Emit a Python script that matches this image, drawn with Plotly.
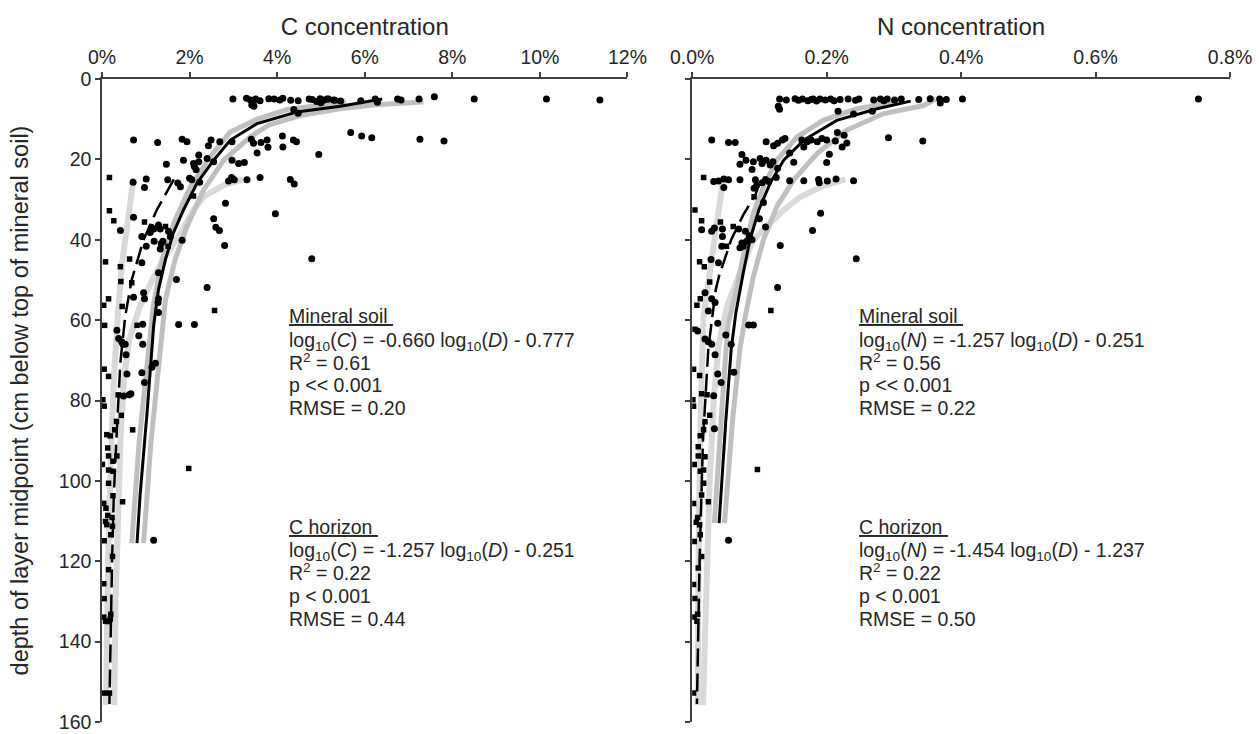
import plotly.graph_objects as go

# ---------------- data (concentration %, depth cm) ----------------
# Left panel: C concentration
c_min_conc = [2.99, 3.30, 3.39, 3.45, 3.51, 3.61, 3.81, 3.93, 4.06, 4.13, 4.31, 4.48, 4.73, 4.80, 4.90,
              4.98, 5.07, 5.17, 5.32, 5.45, 5.91, 6.24, 6.29, 6.75, 6.83, 7.24, 7.59, 8.50, 10.15, 11.37,
              3.47, 4.38, 4.48, 3.42, 5.00, 5.14, 5.29,
              0.72, 1.27, 1.83, 1.94, 2.43, 2.49, 2.69, 2.97, 3.41, 3.46, 3.63, 3.77, 3.79, 4.12, 4.13, 4.37, 4.44,
              4.95, 1.47, 1.86, 2.21, 2.40, 2.09, 2.11, 2.15, 2.21, 2.55, 2.97, 3.12, 3.25, 3.54, 2.96, 3.02,
              2.89, 3.31, 3.61, 4.30, 4.39, 0.71, 1.01, 0.97, 1.50, 1.73, 1.79, 2.00, 2.05, 2.23, 2.82, 3.96,
              2.55, 2.60, 2.68, 2.80, 4.79, 0.72, 0.91, 1.13, 1.10, 1.18, 1.29, 1.33, 1.19, 1.01, 1.35, 1.33,
              1.39, 1.52, 1.56, 1.83, 0.91, 1.29, 1.70, 2.40, 0.72, 0.95, 0.97, 1.29, 1.28, 1.29, 0.42, 1.75,
              2.11, 0.93, 0.84, 0.93, 0.34, 0.38, 0.48, 0.45, 0.53, 0.55, 0.57, 0.49, 0.62, 0.66, 0.91, 0.97,
              1.22, 1.14, 1.18, 5.68, 5.93, 6.16, 7.26, 7.81]
c_min_depth = [5.0, 4.8, 5.2, 6.0, 5.0, 5.4, 4.9, 5.0, 5.2, 4.8, 5.3, 5.4, 5.0, 5.1, 5.6,
               4.9, 5.2, 5.0, 5.3, 5.5, 5.4, 5.0, 5.8, 5.0, 5.2, 5.0, 4.4, 5.0, 5.0, 5.2,
               6.8, 7.6, 8.5, 6.5, 5.9, 5.0, 5.2,
               15.2, 15.8, 15.0, 15.6, 16.6, 15.2, 15.6, 15.6, 15.0, 16.0, 15.8, 15.2, 17.0, 14.2, 16.9, 15.2, 15.6,
               18.8, 21.2, 20.2, 18.9, 19.8, 21.0, 21.8, 22.6, 20.6, 20.6, 20.2, 21.0, 20.8, 18.4, 24.5, 25.1,
               25.4, 25.1, 24.5, 25.0, 26.1, 25.7, 24.9, 27.0, 25.1, 25.9, 26.8, 24.7, 25.1, 25.7, 30.9, 33.5,
               34.8, 36.9, 37.7, 41.4, 44.7, 34.4, 39.2, 36.9, 38.2, 37.3, 36.3, 37.3, 40.4, 41.6, 41.0, 42.3,
               40.4, 37.9, 39.2, 40.1, 45.7, 48.2, 49.9, 51.9, 54.3, 53.2, 54.7, 54.7, 55.6, 58.1, 37.7, 61.1,
               61.1, 61.0, 63.9, 66.0, 62.5, 64.6, 66.0, 65.4, 66.0, 68.6, 73.4, 78.9, 78.6, 78.3, 73.1, 75.5,
               70.7, 71.7, 114.8, 13.3, 14.2, 14.6, 15.0, 15.4]

c_hor_conc = [0.17, 0.17, 0.27, 0.08, 0.42, 0.63, 0.43, 0.68, 0.15, 0.04, 0.46, 0.06, 0.97, 1.45, 1.51,
              2.09, 2.57, 0.80, 0.05, 0.15, 0.02, 0.05, 0.37, 0.44, 0.33, 0.29, 0.70, 0.11, 0.19, 0.13,
              0.15, 0.34, 0.01, 0.25, 0.15, 0.25, 1.98, 0.15, 0.25, 0.47, 0.04, 0.09, 0.13, 0.08, 0.11,
              0.23, 0.24, 0.20, 0.05, 0.24, 0.15, 0.04, 0.05, 0.04, 0.08, 0.13, 0.20, 0.19, 0.05, 0.17]
c_hor_depth = [24.5, 32.8, 35.3, 45.5, 46.7, 44.8, 50.4, 50.7, 54.7, 56.3, 56.6, 61.3, 35.6, 36.7, 41.6,
               29.1, 57.6, 61.3, 72.2, 74.0, 79.8, 81.4, 78.6, 83.7, 85.2, 87.3, 87.3, 88.5, 88.8, 91.8,
               93.8, 93.8, 95.9, 95.1, 97.3, 97.6, 96.9, 100.6, 103.7, 105.2, 105.6, 106.8, 108.6, 110.1, 110.9,
               109.1, 111.3, 113.4, 114.9, 118.8, 122.1, 125.6, 129.3, 133.9, 134.9, 135.0, 133.2, 134.4, 152.8, 152.8]

# Left panel fitted curves
c_fit_depth = [5.0, 6.8, 8.2, 11.1, 15.2, 20.2, 25.9, 32.6, 38.3, 44.9, 52.4, 61.4, 82.9, 103.5, 115.5]
c_fit_conc = [6.40, 5.44, 4.45, 3.54, 2.93, 2.55, 2.17, 1.86, 1.63, 1.45, 1.29, 1.18, 1.03, 0.87, 0.80]
c_lo_depth = [5.7, 6.4, 7.6, 10.0, 13.2, 19.4, 26.8, 35.0, 44.9, 56.5, 67.2, 90.0, 115.5]
c_lo_conc = [5.57, 4.98, 4.23, 3.55, 2.93, 2.47, 2.02, 1.67, 1.37, 1.17, 1.06, 0.85, 0.68]
c_hi_depth = [5.7, 6.4, 7.5, 9.0, 11.5, 14.4, 20.2, 27.6, 36.7, 44.9, 54.8, 67.2, 90.0, 115.5]
c_hi_conc = [7.34, 6.24, 5.40, 4.56, 3.80, 3.39, 2.78, 2.32, 1.94, 1.67, 1.45, 1.33, 1.12, 0.95]
c_hfit_depth = [25.0, 32.6, 40.0, 49.9, 59.0, 66.8, 70.5, 87.0, 103.5, 120.0, 155.5]
c_hfit_conc = [1.64, 1.25, 0.95, 0.68, 0.53, 0.45, 0.42, 0.34, 0.27, 0.23, 0.17]
c_hlo_depth = [24.7, 34.2, 46.6, 59.0, 75.0, 95.0, 120.0, 155.8]
c_hlo_conc = [0.72, 0.61, 0.45, 0.36, 0.27, 0.20, 0.14, 0.09]
c_hhi_depth = [25.0, 26.4, 29.3, 32.6, 38.3, 44.0, 50.0, 57.0, 65.0, 75.0, 90.0, 110.0, 130.0, 155.8]
c_hhi_conc = [3.23, 2.78, 2.32, 2.09, 1.80, 1.45, 1.15, 0.85, 0.62, 0.50, 0.42, 0.36, 0.31, 0.28]

# Right panel: N concentration
n_min_conc = [0.130, 0.140, 0.153, 0.158, 0.164, 0.172, 0.177, 0.180, 0.185, 0.190, 0.198, 0.206, 0.211, 0.220,
              0.232, 0.243, 0.248, 0.270, 0.280, 0.285, 0.290, 0.301, 0.311, 0.337, 0.354, 0.368, 0.369, 0.378,
              0.402, 0.753, 0.130, 0.217, 0.268, 0.240, 0.128,
              0.029, 0.054, 0.064, 0.110, 0.121, 0.127, 0.134, 0.138, 0.163, 0.166, 0.171, 0.177, 0.186, 0.193,
              0.200, 0.213, 0.216, 0.226, 0.230, 0.223, 0.292, 0.343, 0.074, 0.080, 0.071, 0.089, 0.091, 0.101,
              0.104, 0.110, 0.116, 0.120, 0.127, 0.125, 0.109, 0.104, 0.114, 0.094, 0.096, 0.092, 0.151, 0.145,
              0.200, 0.204, 0.032, 0.039, 0.047, 0.054, 0.047, 0.071, 0.145, 0.166, 0.188, 0.189, 0.201, 0.214,
              0.240, 0.191, 0.179, 0.244, 0.131, 0.109, 0.100, 0.106, 0.079, 0.085, 0.089, 0.081, 0.076, 0.074,
              0.071, 0.014, 0.029, 0.033, 0.045, 0.045, 0.044, 0.039, 0.028, 0.019, 0.029, 0.034, 0.024, 0.038,
              0.084, 0.091, 0.127, 0.069, 0.008, 0.019, 0.024, 0.029, 0.034, 0.038, 0.043, 0.032, 0.050, 0.058,
              0.062, 0.054, 0.033]
n_min_depth = [5.0, 5.2, 4.9, 5.3, 5.0, 5.4, 5.1, 5.0, 5.5, 5.0, 5.2, 5.0, 5.4, 5.1,
               5.0, 5.3, 5.0, 5.2, 5.0, 5.4, 5.0, 5.2, 5.0, 5.1, 4.9, 5.0, 6.0, 5.1,
               5.0, 5.0, 7.5, 8.0, 8.0, 8.7, 6.8,
               15.2, 15.8, 15.8, 15.6, 16.6, 16.0, 15.2, 14.8, 15.2, 16.9, 15.6, 15.2, 15.6, 14.8,
               15.2, 15.4, 13.3, 14.0, 15.9, 16.9, 14.6, 15.4, 18.8, 20.2, 21.2, 22.5, 20.6, 19.8,
               21.0, 20.2, 21.4, 20.6, 22.2, 24.5, 25.0, 25.8, 25.5, 25.1, 26.4, 27.2, 20.7, 18.4,
               20.8, 18.7, 25.5, 25.4, 24.9, 25.1, 27.0, 25.1, 25.3, 25.3, 25.0, 25.8, 25.4, 24.9,
               25.3, 33.4, 37.7, 44.7, 41.4, 36.8, 34.8, 30.7, 37.9, 39.0, 40.0, 40.4, 41.6, 40.8,
               42.0, 37.5, 37.9, 37.1, 37.3, 39.2, 41.6, 45.7, 44.9, 53.2, 54.7, 55.6, 57.7, 60.8,
               61.2, 61.2, 51.9, 37.3, 62.7, 64.7, 65.4, 66.0, 68.6, 73.4, 75.5, 78.8, 63.7, 66.0,
               73.0, 114.8, 87.0]

n_hor_conc = [0.017, 0.004, 0.014, 0.042, 0.061, 0.011, 0.018, 0.026, 0.012, 0.007, 0.117, 0.092, 0.051,
              0.004, 0.002, 0.011, 0.001, 0.002, 0.014, 0.022, 0.026, 0.019, 0.012, 0.017, 0.009, 0.009,
              0.019, 0.003, 0.012, 0.017, 0.097, 0.017, 0.014, 0.024, 0.002, 0.006, 0.008, 0.011, 0.012,
              0.003, 0.014, 0.009, 0.002, 0.004, 0.003, 0.007, 0.008, 0.002]
n_hor_depth = [24.5, 32.6, 35.3, 35.6, 36.7, 45.5, 46.7, 50.5, 54.7, 56.3, 57.6, 29.3, 41.6,
               62.3, 72.2, 73.8, 79.8, 81.4, 78.3, 78.6, 83.7, 85.3, 88.8, 87.3, 91.5, 93.8,
               94.0, 95.9, 97.6, 97.3, 97.2, 100.6, 103.5, 105.2, 105.6, 110.3, 109.1, 110.9, 113.4,
               115.1, 118.8, 121.7, 125.8, 129.3, 133.9, 134.9, 133.2, 152.8]

# Right panel fitted curves
n_fit_depth = [5.5, 7.4, 10.3, 15.2, 20.2, 25.9, 32.6, 40.0, 48.2, 58.1, 67.2, 85.0, 110.5]
n_fit_conc = [0.325, 0.275, 0.215, 0.166, 0.136, 0.116, 0.099, 0.086, 0.076, 0.065, 0.058, 0.050, 0.040]
n_lo_depth = [5.7, 7.4, 10.3, 14.4, 20.2, 26.8, 33.4, 41.6, 51.5, 61.4, 80.0, 110.5]
n_lo_conc = [0.305, 0.245, 0.195, 0.156, 0.126, 0.106, 0.091, 0.079, 0.067, 0.053, 0.045, 0.033]
n_hi_depth = [5.0, 6.6, 8.6, 12.7, 18.5, 25.1, 31.7, 40.0, 49.1, 59.0, 67.2, 85.0, 110.5]
n_hi_conc = [0.362, 0.344, 0.285, 0.230, 0.186, 0.151, 0.126, 0.106, 0.091, 0.079, 0.071, 0.060, 0.048]
n_hfit_depth = [26.0, 28.8, 33.8, 37.9, 40.0, 49.0, 52.4, 67.0, 90.0, 120.0, 155.5]
n_hfit_conc = [0.100, 0.094, 0.076, 0.064, 0.058, 0.040, 0.035, 0.024, 0.016, 0.011, 0.007]
n_hlo_depth = [25.0, 46.6, 59.0, 80.0, 110.0, 155.8]
n_hlo_conc = [0.046, 0.027, 0.017, 0.013, 0.010, 0.008]
n_hhi_depth = [25.0, 26.6, 29.3, 32.6, 36.7, 40.0, 48.2, 56.5, 66.4, 80.0, 100.0, 125.0, 155.8]
n_hhi_conc = [0.228, 0.195, 0.161, 0.136, 0.111, 0.091, 0.071, 0.052, 0.039, 0.032, 0.026, 0.021, 0.016]

c_ticks = [0, 2, 4, 6, 8, 10, 12]
n_ticks = [0.0, 0.2, 0.4, 0.6, 0.8]
depth_ticks = [0, 20, 40, 60, 80, 100, 120, 140, 160]

# ---------------- styles ----------------
FONT = "Liberation Sans, Arial, sans-serif"
TXT = "#262626"
AX = "#404040"
MED_GRAY = "#bfbfbf"
LIGHT_GRAY = "#d9d9d9"

fig = go.Figure()


def add_panel(xa, ya, hlo, hhi, lo, hi, hfit, fit, hor, mineral):
    def line(pts, color, width, dash="solid"):
        fig.add_trace(go.Scatter(x=pts[1], y=pts[0], mode="lines", xaxis=xa, yaxis=ya,
                                 line=dict(color=color, width=width, dash=dash), hoverinfo="skip",
                                 showlegend=False))
    line(hlo, LIGHT_GRAY, 6)
    line(hhi, LIGHT_GRAY, 6)
    line(lo, MED_GRAY, 5)
    line(hi, MED_GRAY, 5)
    line(hfit, "black", 2.5, "18px,7px")
    line(fit, "black", 3)
    fig.add_trace(go.Scatter(x=hor[0], y=hor[1], mode="markers", xaxis=xa, yaxis=ya,
                             marker=dict(symbol="square", size=5.5, color="black"), showlegend=False))
    fig.add_trace(go.Scatter(x=mineral[0], y=mineral[1], mode="markers", xaxis=xa, yaxis=ya,
                             marker=dict(symbol="circle", size=7, color="black"), showlegend=False))


add_panel("x", "y",
          (c_hlo_depth, c_hlo_conc), (c_hhi_depth, c_hhi_conc),
          (c_lo_depth, c_lo_conc), (c_hi_depth, c_hi_conc),
          (c_hfit_depth, c_hfit_conc), (c_fit_depth, c_fit_conc),
          (c_hor_conc, c_hor_depth), (c_min_conc, c_min_depth))
add_panel("x2", "y2",
          (n_hlo_depth, n_hlo_conc), (n_hhi_depth, n_hhi_conc),
          (n_lo_depth, n_lo_conc), (n_hi_depth, n_hi_conc),
          (n_hfit_depth, n_hfit_conc), (n_fit_depth, n_fit_conc),
          (n_hor_conc, n_hor_depth), (n_min_conc, n_min_depth))

W, H = 1259, 734
ML, MR, MT, MB = 102, 29.4, 78.5, 12
PW = W - ML - MR
left_dom = [0, (627.3 - ML) / PW]
right_dom = [(692 - ML) / PW, 1]

xcommon = dict(side="top", showline=True, linecolor=AX, linewidth=1.5, ticks="outside", ticklen=5,
               tickcolor=AX, tickwidth=1.5, showgrid=False, zeroline=False, automargin=False,
               ticklabeloverflow="allow",
               tickfont=dict(family=FONT, size=19.5, color=TXT))
ycommon = dict(range=[160, 0], showline=True, linecolor=AX, linewidth=1.5, ticks="outside", ticklen=5,
               tickcolor=AX, tickwidth=1.5, showgrid=False, zeroline=False, automargin=False,
               ticklabeloverflow="allow",
               tickvals=depth_ticks, tickfont=dict(family=FONT, size=19.5, color=TXT))

fig.update_layout(
    width=W, height=H,
    margin=dict(l=ML, r=MR, t=MT, b=MB),
    plot_bgcolor="white", paper_bgcolor="white",
    font=dict(family=FONT, color=TXT),
    xaxis=dict(xcommon, domain=left_dom, range=[0, 12], tickvals=c_ticks,
               ticktext=[f"{v}%" for v in c_ticks], anchor="y",
               title=dict(text="C concentration", font=dict(family=FONT, size=24, color=TXT), standoff=4)),
    xaxis2=dict(xcommon, domain=right_dom, range=[0, 0.8], tickvals=n_ticks,
                ticktext=[f"{v:.1f}%" for v in n_ticks], anchor="y2",
                title=dict(text="N concentration", font=dict(family=FONT, size=24, color=TXT), standoff=4)),
    yaxis=dict(ycommon, anchor="x",
               title=dict(text="depth of layer midpoint (cm below top of mineral soil)",
                          font=dict(family=FONT, size=23.5, color=TXT), standoff=24)),
    yaxis2=dict(ycommon, anchor="x2", showticklabels=False),
)

# ---------------- regression annotations ----------------
ann_lines_c = [
    ("<u>Mineral soil </u>", 316),
    ("log<sub>10</sub>(<i>C</i>) = -0.660 log<sub>10</sub>(<i>D</i>) - 0.777", 341),
    ("R<sup>2</sup> = 0.61", 362),
    ("p << 0.001", 385),
    ("RMSE = 0.20", 408),
    ("<u>C horizon </u>", 527),
    ("log<sub>10</sub>(<i>C</i>) = -1.257 log<sub>10</sub>(<i>D</i>) - 0.251", 551),
    ("R<sup>2</sup> = 0.22", 572),
    ("p < 0.001", 596),
    ("RMSE = 0.44", 619),
]
ann_lines_n = [
    ("<u>Mineral soil </u>", 316),
    ("log<sub>10</sub>(<i>N</i>) = -1.257 log<sub>10</sub>(<i>D</i>) - 0.251", 341),
    ("R<sup>2</sup> = 0.56", 362),
    ("p << 0.001", 385),
    ("RMSE = 0.22", 408),
    ("<u>C horizon </u>", 527),
    ("log<sub>10</sub>(<i>N</i>) = -1.454 log<sub>10</sub>(<i>D</i>) - 1.237", 551),
    ("R<sup>2</sup> = 0.22", 572),
    ("p < 0.001", 596),
    ("RMSE = 0.50", 619),
]
for lines, xpx in ((ann_lines_c, 288), (ann_lines_n, 858)):
    for text, ypx in lines:
        fig.add_annotation(text=text, xref="paper", yref="paper",
                           x=(xpx - ML) / PW, y=1 - (ypx - MT) / (H - MT - MB),
                           xanchor="left", yanchor="middle", showarrow=False,
                           font=dict(family=FONT, size=19.5, color=TXT), borderpad=0)

fig.write_html("out.html")
